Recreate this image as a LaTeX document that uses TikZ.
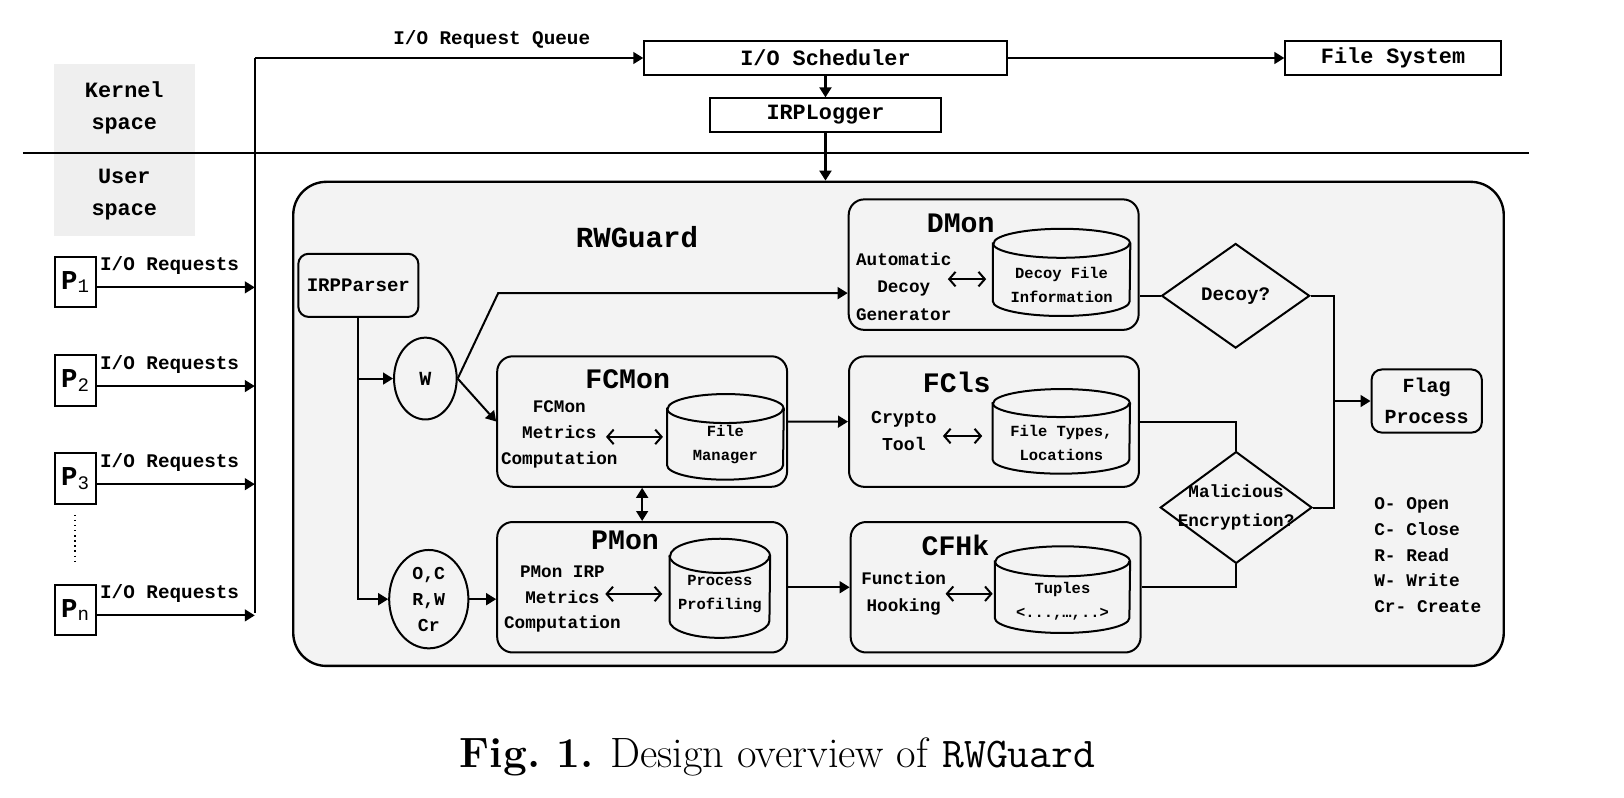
\documentclass[tikz,border=0pt]{standalone}
\usepackage{fontspec}
\usepackage{tikz}
\usepackage{xcolor}
\usetikzlibrary{shapes.geometric,arrows.meta}

\newfontfamily\diagfont{Liberation Mono}
\newcommand{\dsize}[2]{\fontsize{#1}{#2}\selectfont}
\definecolor{guardgray}{HTML}{F3F3F3}
\definecolor{spacegray}{HTML}{EFEFEF}

\tikzset{
  link/.style={line width=1.1pt},
  arrow/.style={line width=1.1pt, -{Triangle[length=5.5pt,width=6.5pt]}},
  thickarrow/.style={line width=2pt, -{Triangle[length=5.5pt,width=6.5pt]}},
  twoway/.style={line width=1.1pt, {Straight Barb[length=3.5pt,width=8pt]}-{Straight Barb[length=3.5pt,width=8pt]}},
  twowayfilled/.style={line width=1.1pt, {Triangle[length=5.5pt,width=6.5pt]}-{Triangle[length=5.5pt,width=6.5pt]}},
  plainbox/.style={draw, line width=1.1pt, minimum height=0.64cm, inner sep=0pt, font=\diagfont\bfseries\dsize{12}{14}},
  procbox/.style={draw, line width=1.1pt, minimum width=0.79cm, minimum height=0.98cm, inner sep=0pt, font=\diagfont\bfseries\dsize{15}{18}},
  module/.style={draw, line width=1.1pt, fill=guardgray, rounded corners=0.3cm, minimum width=5.6cm, minimum height=2.52cm},
  modtitle/.style={font=\diagfont\bfseries\dsize{15.5}{18}},
  modtext/.style={align=center, inner sep=0pt, font=\diagfont\bfseries\dsize{9.7}{14.2}},
  storetext/.style={align=center, inner sep=0pt, font=\diagfont\bfseries\dsize{8.5}{13}},
  decision/.style={draw, line width=1.1pt, diamond, inner sep=0pt},
  filter/.style={draw, line width=1.1pt, ellipse, inner sep=0pt, align=center},
  reqtext/.style={font=\diagfont\bfseries\dsize{10.6}{12}}
}

% storage cylinder: name, position, width, height, cap radius, text shift, text
\newcommand{\storage}[7]{%
  \node[minimum width=#3, minimum height=#4, inner sep=0pt] (#1) at #2 {};
  \draw[link, fill=guardgray] ([yshift=-#5]#1.north west) -- ([yshift=#5]#1.south west)
    arc[start angle=180, end angle=360, x radius={#3/2}, y radius=#5]
    -- ([yshift=-#5]#1.north east)
    arc[start angle=0, end angle=180, x radius={#3/2}, y radius=#5] -- cycle;
  \draw[link] ([yshift=-#5]#1.north west) arc[start angle=180, end angle=360, x radius={#3/2}, y radius=#5];
  \node[storetext] (#1text) at ([yshift=-#6]#1.center) {#7};
}

\begin{document}
\begin{tikzpicture}[x=0.02cm, y=-0.02cm]
  \useasboundingbox (0,0) rectangle (1568,770);

            % kernel and user space
	    \fill[spacegray] (52,62) rectangle (188,228);
	    \node[align=center, font=\diagfont\bfseries\dsize{12}{17.6}] (kernel) at (120,104.5) {Kernel\\space};
	    \node[align=center, font=\diagfont\bfseries\dsize{12}{17.6}] (user) at (120,188) {User\\space};
	    \draw[link] (22,148) -- (1476,148);

            % kernel side
	    \node[plainbox, minimum width=7cm] (sched) at (797,56) {I/O Scheduler};
	    \node[plainbox, minimum width=4.16cm] (fs) at (1345,56) {File System};
	    \node[plainbox, minimum width=4.46cm] (logger) at (797,111) {IRPLogger};

            % processes
	    \coordinate (bustop) at (246,56);
	    \coordinate (busbot) at (246,592);
	    \node[procbox] (p1) at (73,272.3) {P\textsubscript{\mdseries 1}};
	    \node[procbox] (p2) at (73,367.6) {P\textsubscript{\mdseries 2}};
	    \node[procbox] (p3) at (73,462.3) {P\textsubscript{\mdseries 3}};
	    \node[procbox] (pn) at (73,589) {P\textsubscript{\mdseries n}};
	    \draw[dotted, line width=0.8pt] (72.4,497) -- (72.4,544);

            % rwguard
	    \node[draw, line width=1.3pt, fill=guardgray, rounded corners=0.64cm, minimum width=23.38cm, minimum height=9.35cm] (guard) at (867.5,409.25) {};
	    \node[font=\diagfont\bfseries\dsize{16}{18}] (guardtitle) at (615,229) {RWGuard};
	    \node[draw, line width=1.1pt, rounded corners=0.2cm, minimum width=2.32cm, minimum height=1.22cm, font=\diagfont\bfseries\dsize{10.5}{12}] (parser) at (346,275.5) {IRPParser};
	    \node[filter, minimum width=1.21cm, minimum height=1.58cm, font=\diagfont\bfseries\dsize{11}{14}] (w) at (410.7,365.5) {W};
	    \node[filter, minimum width=1.53cm, minimum height=1.9cm, font=\diagfont\bfseries\dsize{10}{14.2}] (ocrw) at (414,578.5) {O,C\\R,W\\Cr};

            % dmon
	    \node[module] (dmon) at (959.4,255.5) {};
	    \node[modtitle] (dmontitle) at (927.6,215.6) {DMon};
	    \node[modtext, font=\diagfont\bfseries\dsize{9.7}{15}] (dmongen) at (872.6,276.8) {Automatic\\Decoy\\Generator};
	    \storage{decoyinfo}{(1025,263)}{2.64cm}{1.67cm}{0.28cm}{0.24cm}{Decoy File\\Information}

            % fcmon
	    \node[module] (fcmon) at (620,407) {};
	    \node[modtitle] (fcmontitle) at (606,366.3) {FCMon};
	    \node[modtext] (fcmonmetric) at (540,419.5) {FCMon\\Metrics\\Computation};
	    \storage{filemgr}{(700.4,421.8)}{2.24cm}{1.64cm}{0.28cm}{0.15cm}{File\\Manager}

            % fcls
	    \node[module] (fcls) at (959.7,407.1) {};
	    \node[modtitle] (fclstitle) at (923.8,369.5) {FCls};
	    \node[modtext, font=\diagfont\bfseries\dsize{10}{14.6}] (crypto) at (872.7,416) {Crypto\\Tool};
	    \storage{filetypes}{(1024.7,416.5)}{2.64cm}{1.62cm}{0.27cm}{0.22cm}{File Types,\\Locations}

            % pmon
	    \node[module] (pmon) at (620,567) {};
	    \node[modtitle] (pmontitle) at (603.5,521.4) {PMon};
	    \node[modtext] (pmonmetric) at (543,578.5) {PMon IRP\\Metrics\\Computation};
	    \storage{profiling}{(695,568)}{1.93cm}{1.9cm}{0.33cm}{0.11cm}{Process\\Profiling}

            % cfhk
	    \node[module] (cfhk) at (961.3,567) {};
	    \node[modtitle] (cfhktitle) at (922.5,526.2) {CFHk};
	    \node[modtext, font=\diagfont\bfseries\dsize{9.7}{14.6}] (hooking) at (872.5,573) {Function\\Hooking};
	    \storage{tuples}{(1025.8,569.3)}{2.6cm}{1.66cm}{0.29cm}{0.22cm}{Tuples\\<...,…,..>}

            % decisions
	    \node[decision, minimum width=2.86cm, minimum height=2.02cm, label={[font=\diagfont\bfseries\dsize{10.5}{12}]center:Decoy?}] (decoy) at (1193,285.6) {};
	    \node[decision, minimum width=2.93cm, minimum height=2.16cm, label={[align=center, font=\diagfont\bfseries\dsize{9.7}{15.5}]center:{Malicious\\Encryption?}}] (mal) at (1193.5,490) {};
	    \node[draw, line width=1.1pt, rounded corners=0.2cm, minimum width=2.13cm, minimum height=1.22cm, align=center, font=\diagfont\bfseries\dsize{11}{16.7}] (flag) at (1377.5,387.2) {Flag\\Process};
	    \node[anchor=west, align=left, inner sep=0pt, font=\diagfont\bfseries\dsize{9.8}{14.2}] (legend) at (1326.5,536) {O- Open\\C- Close\\R- Read\\W- Write\\Cr- Create};

            % connectors
	    \draw[link] (bustop) -- (busbot);
	    \draw[arrow] (bustop) -- (sched.west) node[reqtext, pos=0.61, above=1.5pt] {I/O Request Queue};
	    \draw[arrow] (sched.east) -- (fs.west);
	    \draw[thickarrow] (sched.south) -- (logger.north);
	    \draw[thickarrow] (logger.south) -- (logger.south |- guard.north);
	    \draw[arrow] (p1.-14) -- (p1.-14 -| bustop) node[reqtext, pos=0.46, above=3pt] {I/O Requests};
	    \draw[arrow] (p2.-14) -- (p2.-14 -| bustop) node[reqtext, pos=0.46, above=3pt] {I/O Requests};
	    \draw[arrow] (p3.-14) -- (p3.-14 -| bustop) node[reqtext, pos=0.46, above=3pt] {I/O Requests};
	    \draw[arrow] (pn.-14) -- (pn.-14 -| bustop) node[reqtext, pos=0.46, above=3pt] {I/O Requests};

	    \draw[arrow] (parser.south) |- (ocrw.west);
	    \draw[arrow] (parser.south |- w.west) -- (w.west);
	    \coordinate (wbend) at (481,283);
	    \draw[arrow] (w.east) -- (wbend) -- (wbend -| dmon.west);
	    \draw[arrow] (w.east) -- (fcmon.west);
	    \draw[arrow] (ocrw.east) -- (ocrw.east -| pmon.west);
	    \draw[arrow] (fcmon.east) -- (fcls.west);
	    \draw[arrow] (pmon.east) -- (cfhk.west);
	    \draw[twowayfilled] (fcmon.south) -- (pmon.north);

	    \draw[twoway] ([xshift=-0.87cm,yshift=-0.13cm]decoyinfo.west) -- ([xshift=-0.13cm,yshift=-0.13cm]decoyinfo.west);
	    \draw[twoway] ([xshift=-1.18cm]filemgr.west) -- ([xshift=-0.08cm]filemgr.west);
	    \draw[twoway] ([xshift=-0.96cm,yshift=-0.09cm]filetypes.west) -- ([xshift=-0.2cm,yshift=-0.09cm]filetypes.west);
	    \draw[twoway] ([xshift=-1.24cm,yshift=-0.11cm]profiling.west) -- ([xshift=-0.14cm,yshift=-0.11cm]profiling.west);
	    \draw[twoway] ([xshift=-0.95cm,yshift=-0.08cm]tuples.west) -- ([xshift=-0.04cm,yshift=-0.08cm]tuples.west);

	    \draw[link] (decoy.west) -- (decoy.west -| dmon.east);
	    \draw[link] (fcls.east) -| (mal.north);
	    \draw[link] (cfhk.east) -| (mal.south);
	    \coordinate (merge) at ([xshift=-0.7cm]flag.west);
	    \draw[link] (decoy.east) -| (merge);
	    \draw[link] (mal.east) -| (merge);
	    \draw[arrow] (merge) -- (flag.west);

            % caption
	    \node[font=\dsize{23.3}{27}] (caption) at (750.8,731) {\textbf{Fig.~1.} Design overview of \texttt{RWGuard}};
        \end{tikzpicture}
\end{document}
